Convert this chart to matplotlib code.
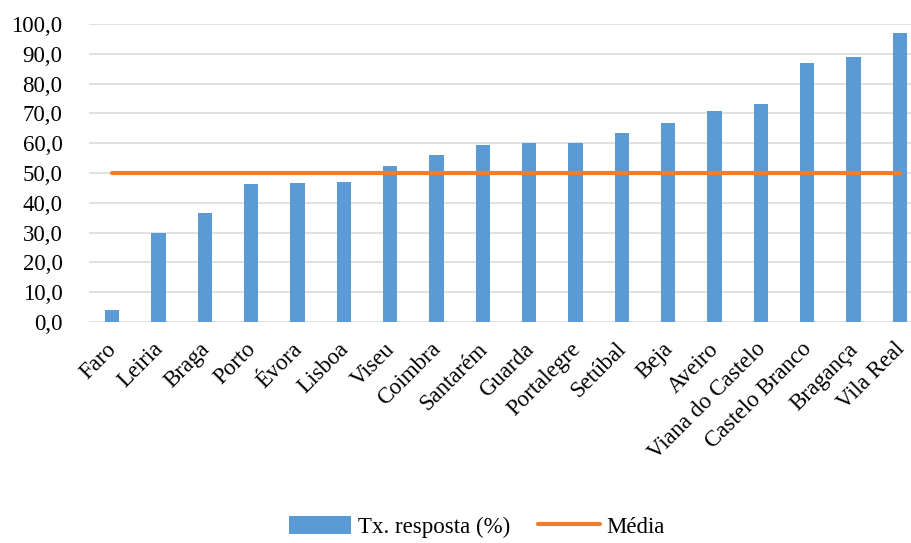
import numpy as np
import matplotlib
matplotlib.use('Agg')
from matplotlib import pyplot as plt
import matplotlib.transforms as mtransforms

distritos = ['Faro', 'Leiria', 'Braga', 'Porto', 'Évora', 'Lisboa', 'Viseu', 'Coimbra',
             'Santarém', 'Guarda', 'Portalegre', 'Setúbal', 'Beja', 'Aveiro',
             'Viana do Castelo', 'Castelo Branco', 'Bragança', 'Vila Real']
tx_resposta = [4.1, 29.7, 36.6, 46.2, 46.8, 47.0, 52.4, 56.2,
               59.4, 59.9, 59.9, 63.4, 66.7, 70.8, 73.3, 86.8, 88.9, 97.0]
media = [50.0] * len(distritos)
yticks = np.arange(0, 101, 10)

plt.rcParams['font.family'] = ['Liberation Serif', 'DejaVu Serif']
color_bar = '#5B9BD5'
color_line = '#ED7D31'
fs = 16.5

fig = plt.figure(figsize=(9.11, 5.43), dpi=100)
ax = fig.add_axes([89/911, 221/543, 834/911, 298/543])
x = np.arange(len(distritos))
bars = ax.bar(x, tx_resposta, width=0.31, color=color_bar, label='Tx. resposta (%)', zorder=2)
line, = ax.plot(x, media, color=color_line, lw=3.0, solid_capstyle='round', label='Média', zorder=3)

ax.set_xlim(-0.5, len(distritos) - 0.5)
ax.set_ylim(0, 100)
ax.set_yticks(yticks)
ax.set_yticklabels([f'{v:.1f}'.replace('.', ',') for v in yticks], fontsize=fs)
ax.yaxis.grid(True, color='#D9D9D9', lw=1.1, zorder=0)
ax.set_axisbelow(True)
ax.tick_params(axis='y', length=0, pad=19)
ax.tick_params(axis='x', length=0, pad=12)
ax.set_xticks(x)
ax.set_xticklabels(distritos, rotation=45, ha='right', rotation_mode='anchor', fontsize=fs)
shift = mtransforms.ScaledTranslation(-6/100, 0, fig.dpi_scale_trans)
for lbl in ax.get_xticklabels():
    lbl.set_transform(lbl.get_transform() + shift)
for sp in ax.spines.values():
    sp.set_visible(False)

fig.legend([bars, line], ['Tx. resposta (%)', 'Média'], loc='center',
           bbox_to_anchor=(477/911, 1 - 527/543), ncol=2, frameon=False,
           fontsize=fs, handlelength=2.7, handleheight=0.8, columnspacing=1.2, handletextpad=0.3)

plt.savefig('out.png', dpi=100)
